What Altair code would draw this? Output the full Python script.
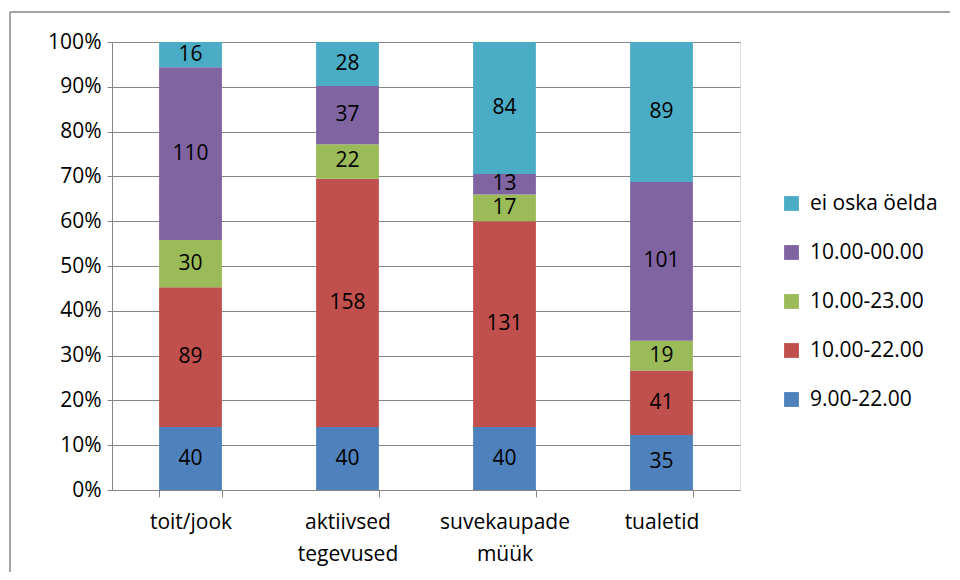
import altair as alt
import pandas as pd

categories = ["toit/jook", "aktiivsed tegevused", "suvekaupade müük", "tualetid"]
series = ["9.00-22.00", "10.00-22.00", "10.00-23.00", "10.00-00.00", "ei oska öelda"]
colors = ["#4F81BD", "#C0504D", "#9BBB59", "#8064A2", "#4BACC6"]
v_9_22 = [40, 40, 40, 35]
v_10_22 = [89, 158, 131, 41]
v_10_23 = [30, 22, 17, 19]
v_10_00 = [110, 37, 13, 101]
v_ei = [16, 28, 84, 89]

values = [v_9_22, v_10_22, v_10_23, v_10_00, v_ei]
rows = []
for ci, cat in enumerate(categories):
    total = sum(v[ci] for v in values)
    cum = 0
    for si, s in enumerate(series):
        val = values[si][ci]
        rows.append({"cat": cat, "series": s, "order": si, "value": val,
                     "y0": cum / total, "y1": (cum + val) / total,
                     "mid": (cum + val / 2) / total})
        cum += val
df = pd.DataFrame(rows)

FONT = "Open Sans"
FS = 21
xenc = alt.X("cat:N", sort=categories, title=None,
             scale=alt.Scale(paddingInner=0.6, paddingOuter=0.3),
             axis=alt.Axis(labelAngle=0, labelExpr="split(datum.label, ' ')",
                           labelFontSize=FS, labelFont=FONT, labelColor="#000000",
                           labelPadding=14, labelLineHeight=32,
                           tickBand="extent", tickSize=7, tickColor="#868686",
                           domainColor="#868686", grid=False))
yscale = alt.Scale(domain=[0, 1])

bars = alt.Chart(df).mark_bar().encode(
    x=xenc,
    y=alt.Y("y0:Q", scale=yscale, title=None,
            axis=alt.Axis(format=".0%", values=[i / 10 for i in range(11)],
                          labelFontSize=FS, labelFont=FONT, labelColor="#000000",
                          labelPadding=6, tickSize=5, tickColor="#868686",
                          domainColor="#868686", gridColor="#868686")),
    y2="y1:Q",
    color=alt.Color("series:N",
                    scale=alt.Scale(domain=series[::-1], range=colors[::-1]),
                    legend=alt.Legend(title=None, orient="none", legendX=669, legendY=151,
                                      symbolType="square", symbolSize=220,
                                      symbolStrokeWidth=0, labelFontSize=FS,
                                      labelFont=FONT, labelColor="#000000",
                                      labelOffset=8, rowPadding=27)),
)

labels = alt.Chart(df).mark_text(fontSize=FS, font=FONT, color="#000000").encode(
    x=alt.X("cat:N", sort=categories),
    y=alt.Y("mid:Q", scale=yscale),
    text="value:Q",
)

one = pd.DataFrame({"a": [0]})
frame_left = alt.Chart(one).mark_rule(stroke="#868686", strokeWidth=1.5).encode(
    x=alt.value(-102), y=alt.value(-30), y2=alt.value(600))
frame_top = alt.Chart(one).mark_rule(stroke="#868686", strokeWidth=1.5).encode(
    x=alt.value(-102), x2=alt.value(900), y=alt.value(-30))

chart = alt.layer(frame_left, frame_top, bars, labels).properties(
    width=628, height=448,
    autosize=alt.AutoSizeParams(type="none"),
    padding={"left": 104, "top": 34, "right": 210, "bottom": 82},
).configure_view(stroke=None).configure(background="white")

chart.save("out.html", embed_options={"renderer": "svg", "actions": False})
